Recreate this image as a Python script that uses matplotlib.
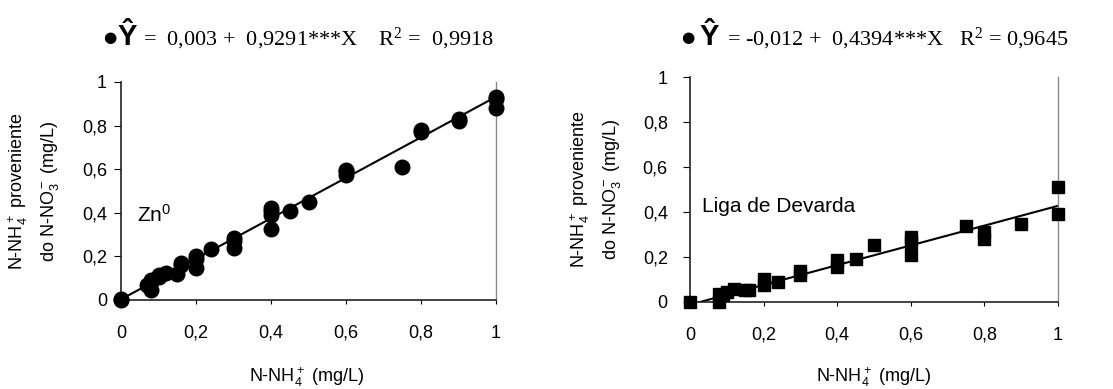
import matplotlib.pyplot as plt
import numpy as np

plt.rcParams['font.family'] = ['Liberation Sans', 'DejaVu Sans']
plt.rcParams['mathtext.default'] = 'regular'

# Zn0 data
zn_x = [0, 0, 0.07, 0.08, 0.08, 0.08, 0.1, 0.1, 0.12, 0.15, 0.16, 0.16,
        0.2, 0.2, 0.2, 0.24, 0.3, 0.3, 0.3, 0.4, 0.4, 0.4, 0.4, 0.45, 0.5,
        0.6, 0.6, 0.6, 0.75, 0.8, 0.8, 0.9, 0.9, 1.0, 1.0, 1.0]
zn_y = [0, 0.005, 0.07, 0.046, 0.084, 0.09, 0.107, 0.115, 0.122, 0.12, 0.16, 0.17,
        0.145, 0.19, 0.2, 0.233, 0.237, 0.27, 0.283, 0.325, 0.39, 0.41, 0.42, 0.406, 0.45,
        0.574, 0.59, 0.597, 0.61, 0.77, 0.78, 0.82, 0.83, 0.88, 0.92, 0.93]
zn_a, zn_b = 0.003, 0.9291

# Liga de Devarda data
dev_x = [0, 0.08, 0.08, 0.09, 0.1, 0.12, 0.15, 0.16, 0.2, 0.2, 0.24, 0.3, 0.3,
         0.4, 0.4, 0.45, 0.5, 0.6, 0.6, 0.6, 0.75, 0.8, 0.8, 0.9, 1.0, 1.0]
dev_y = [0, 0, 0.037, 0.03, 0.044, 0.06, 0.052, 0.054, 0.104, 0.074, 0.089, 0.14, 0.118,
         0.185, 0.156, 0.193, 0.252, 0.289, 0.267, 0.207, 0.338, 0.311, 0.281, 0.348, 0.511, 0.393]
dev_a, dev_b = -0.012, 0.4394

ticks = [0, 0.2, 0.4, 0.6, 0.8, 1]
tick_labels = ['0', '0,2', '0,4', '0,6', '0,8', '1']

fig = plt.figure(figsize=(11.13, 3.89), dpi=100)
ax1 = fig.add_axes([121 / 1113, 89 / 389, 375 / 1113, 218 / 389])
ax2 = fig.add_axes([690 / 1113, 87 / 389, 368 / 1113, 225 / 389])


def style(ax, ypad):
    ax.set_xlim(0, 1)
    ax.set_ylim(0, 1)
    ax.set_xticks(ticks)
    ax.set_xticklabels(tick_labels)
    ax.set_yticks(ticks)
    ax.set_yticklabels(tick_labels)
    ax.tick_params(axis='x', direction='out', length=3, pad=15, labelsize=13)
    ax.tick_params(axis='y', direction='out', length=5, pad=ypad, labelsize=13)
    ax.spines['top'].set_visible(False)
    ax.spines['right'].set_color('#8a8a8a')
    ax.spines['right'].set_linewidth(1)
    for s in ['left', 'bottom']:
        ax.spines[s].set_color('#222222')
        ax.spines[s].set_linewidth(1.2)


xs = np.array([0, 1])
ax1.plot(zn_x, zn_y, 'o', color='black', markersize=10.5, clip_on=False, zorder=3)
ax1.plot(xs, zn_a + zn_b * xs, color='black', linewidth=1.5)
style(ax1, 5)
ax1.text(0.043, 0.36, 'Zn$^0$', fontsize=15)

ax2.plot(dev_x, dev_y, 's', color='black', markersize=9, clip_on=False, zorder=3)
ax2.plot(xs, dev_a + dev_b * xs, color='black', linewidth=1.5)
style(ax2, 11)
ax2.text(0.033, 0.40, 'Liga de Devarda', fontsize=15)

# axis labels
for cx, cy in [(34, 191), (596, 189)]:
    fig.text((cx - 16) / 1113, 1 - cy / 389, 'N-NH$_4^+$ proveniente', rotation=90,
             ha='center', va='center', fontsize=13)
    fig.text((cx + 16) / 1113, 1 - cy / 389, 'do N-NO$_3^-$ (mg/L)', rotation=90,
             ha='center', va='center', fontsize=13)
fig.text(307 / 1113, 1 - 377 / 389, 'N-NH$_4^+$ (mg/L)', ha='center', va='center', fontsize=13)
fig.text(874 / 1113, 1 - 377 / 389, 'N-NH$_4^+$ (mg/L)', ha='center', va='center', fontsize=13)

# regression equations
base = 1 - 45 / 389
for bx, yx, ex, eq in [(110, 117, 143, '=  0,003 +  0,9291***X    R$^2$ =  0,9918'),
                       (688, 700, 727, '= -0,012 +  0,4394***X   R$^2$ = 0,9645')]:
    fig.text(bx / 1113, 1 - 38 / 389, '●', family='DejaVu Sans', fontsize=11,
             ha='center', va='center')
    fig.text(yx / 1113, base, 'Ŷ', fontsize=21, fontweight='bold', va='baseline')
    fig.text(ex / 1113, base, eq, family='Liberation Serif', fontsize=16, va='baseline')

fig.savefig('out.png', dpi=100)
